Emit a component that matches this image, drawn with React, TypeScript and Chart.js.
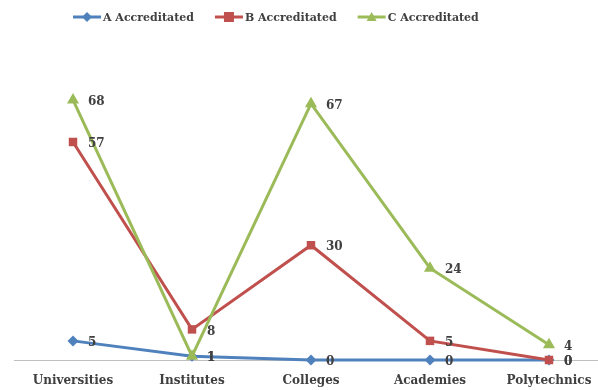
import React, { useEffect, useRef } from "react";
import { Chart, registerables } from "chart.js";

Chart.register(...registerables);

const categories = ["Universities", "Institutes", "Colleges", "Academies", "Polytechnics"];
const seriesNames = ["A Accreditated", "B Accreditated", "C Accreditated"];
const seriesA = [5, 1, 0, 0, 0];
const seriesB = [57, 8, 30, 5, 0];
const seriesC = [68, 1, 67, 24, 4];
const colors = ["#4F81BD", "#C0504D", "#9BBB59"];
const pointStyles = ["rectRot", "rect", "triangle"];
const pointRadii = [5.5, 6, 7];

const FONT = "'DejaVu Serif', serif";
const TEXT = "#404040";

const labelPlugin = {
  id: "valueLabels",
  afterDatasetsDraw(chart: any) {
    const ctx = chart.ctx;
    ctx.save();
    ctx.font = `bold 12px ${FONT}`;
    ctx.fillStyle = TEXT;
    ctx.textBaseline = "middle";
    ctx.textAlign = "left";
    chart.data.datasets.forEach((ds: any, i: number) => {
      const meta = chart.getDatasetMeta(i);
      meta.data.forEach((pt: any, j: number) => {
        ctx.fillText(String(ds.data[j]), pt.x + 15, pt.y + 2);
      });
    });
    ctx.restore();
  },
};

const baselinePlugin = {
  id: "baseline",
  beforeDatasetsDraw(chart: any) {
    const ctx = chart.ctx;
    const y = Math.round(chart.scales.y.getPixelForValue(0)) + 0.5;
    ctx.save();
    ctx.strokeStyle = "#BFBFBF";
    ctx.lineWidth = 1;
    ctx.beginPath();
    ctx.moveTo(14, y);
    ctx.lineTo(chart.width, y);
    ctx.stroke();
    ctx.restore();
  },
};

const legendPlugin = {
  id: "customLegend",
  afterDraw(chart: any) {
    const ctx = chart.ctx;
    ctx.save();
    ctx.font = `bold 11px ${FONT}`;
    ctx.textBaseline = "middle";
    ctx.textAlign = "left";
    let x = 73;
    const y = 17;
    seriesNames.forEach((name, i) => {
      ctx.strokeStyle = colors[i];
      ctx.lineWidth = 3;
      ctx.beginPath();
      ctx.moveTo(x, y);
      ctx.lineTo(x + 28, y);
      ctx.stroke();
      ctx.fillStyle = colors[i];
      const cx = x + 14;
      ctx.beginPath();
      if (i === 0) {
        ctx.moveTo(cx, y - 5);
        ctx.lineTo(cx + 5, y);
        ctx.lineTo(cx, y + 5);
        ctx.lineTo(cx - 5, y);
      } else if (i === 1) {
        ctx.rect(cx - 5, y - 5, 10, 10);
      } else {
        ctx.moveTo(cx, y - 5);
        ctx.lineTo(cx + 5, y + 4);
        ctx.lineTo(cx - 5, y + 4);
      }
      ctx.closePath();
      ctx.fill();
      ctx.fillStyle = TEXT;
      ctx.fillText(name, x + 30, y + 1);
      x += 30 + ctx.measureText(name).width + 21;
    });
    ctx.restore();
  },
};

export default function App() {
  const ref = useRef<HTMLCanvasElement>(null);
  useEffect(() => {
    if (!ref.current) return;
    const all = [seriesA, seriesB, seriesC];
    const chart = new Chart(ref.current, {
      type: "line",
      data: {
        labels: categories,
        datasets: all.map((d, i) => ({
          label: seriesNames[i],
          data: d,
          borderColor: colors[i],
          backgroundColor: colors[i],
          borderWidth: 3,
          pointStyle: pointStyles[i] as any,
          pointRadius: pointRadii[i],
          pointBorderWidth: 0,
          pointBackgroundColor: colors[i],
          tension: 0,
          clip: false as any,
          order: 2 - i,
        })),
      },
      options: {
        responsive: false,
        animation: false,
        layout: { padding: { left: 73, right: 49, top: 54, bottom: 0 } },
        plugins: { legend: { display: false }, tooltip: { enabled: false } },
        scales: {
          x: {
            offset: false,
            grid: { display: false, drawTicks: false },
            border: { display: false },
            afterFit: (scale: any) => {
              scale.height = 30;
              scale.paddingLeft = 0;
              scale.paddingRight = 0;
            },
            ticks: {
              padding: 14,
              color: TEXT,
              font: { family: FONT, size: 12, weight: "bold" },
              maxRotation: 0,
              autoSkip: false,
            },
          },
          y: { display: false, min: 0, max: 80 },
        },
      },
      plugins: [baselinePlugin, labelPlugin, legendPlugin],
    });
    return () => chart.destroy();
  }, []);
  return (
    <div style={{ position: "fixed", left: 0, top: 0, width: 598, height: 390, background: "#fff" }}>
      <canvas ref={ref} width={598} height={390} />
    </div>
  );
}
